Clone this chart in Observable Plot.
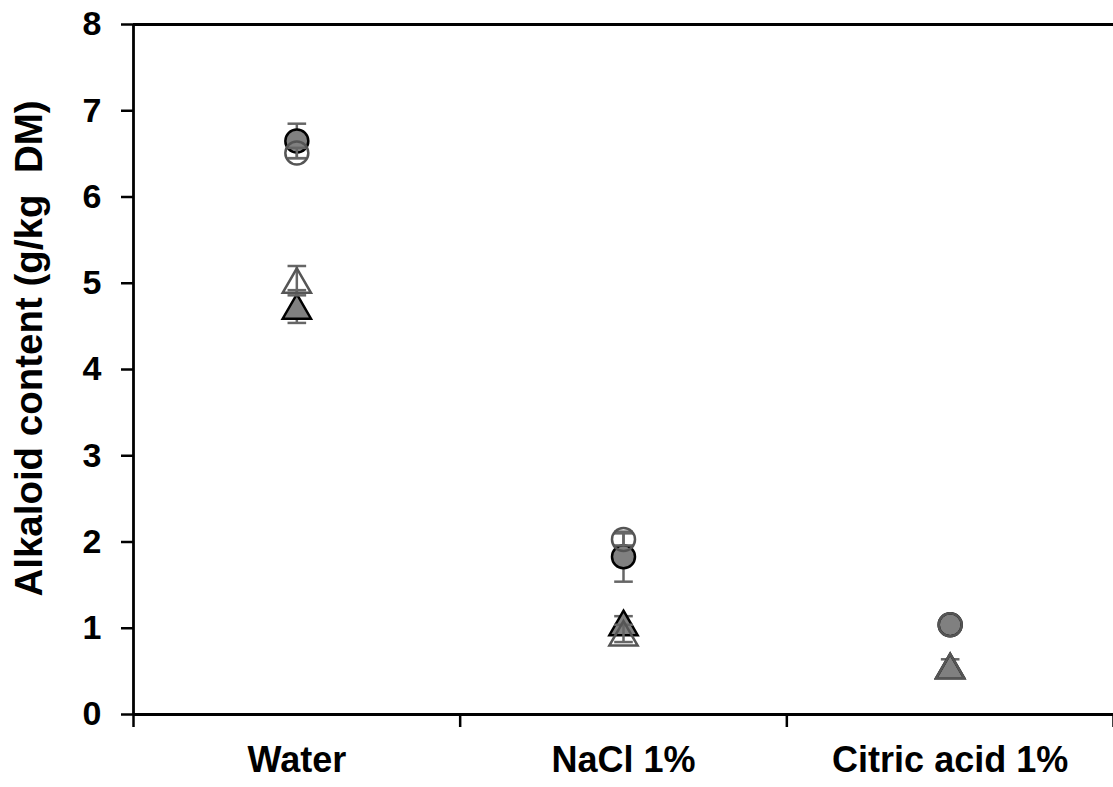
<!DOCTYPE html>
<html>
<head>
<meta charset="utf-8">
<script src="https://cdn.jsdelivr.net/npm/d3@7"></script>
<script src="https://cdn.jsdelivr.net/npm/@observablehq/plot@0.6"></script>
<style>
  html, body { margin: 0; padding: 0; background: #fff; }
  #chart svg { display: block; }
</style>
</head>
<body>
<div id="chart"></div>
<script>
// ---- data ----
const categories = ["Water", "NaCl 1%", "Citric acid 1%"];
const yTicks = [0, 1, 2, 3, 4, 5, 6, 7, 8];
const yLabel = "Alkaloid content (g/kg  DM)";

const circleFilled    = [6.65, 1.83, 1.04];
const circleFilledErr = [0.20, 0.29, 0.05];
const circleOpen      = [6.51, 2.03, 1.04];
const circleOpenErr   = [0.06, 0.07, 0];
const triFilled       = [4.73, 1.06, 0.56];
const triFilledErr    = [0.19, 0.08, 0.08];
const triOpen         = [5.03, 0.94, 0.56];
const triOpenErr      = [0.17, 0.10, 0];

// ---- build rows ----
function rows(values, errs) {
  return values.map((v, i) => ({cat: i + 0.5, v, e: errs[i]}));
}
const cF = rows(circleFilled, circleFilledErr);
const tF = rows(triFilled, triFilledErr);
const cO = rows(circleOpen, circleOpenErr);
const tO = rows(triOpen, triOpenErr);

// horizontal cap symbol for error bars
const capSymbol = {
  draw(context, size) {
    const w = Math.sqrt(size) / 2;
    context.moveTo(-w, 0);
    context.lineTo(w, 0);
  }
};

function errorMarks(data, color) {
  const d = data.filter(r => r.e > 0);
  return [
    Plot.ruleX(d, {x: "cat", y1: r => r.v - r.e, y2: r => r.v + r.e, stroke: color, strokeWidth: 2.5}),
    Plot.dot(d, {x: "cat", y: r => r.v + r.e, symbol: capSymbol, r: 10.5, stroke: color, strokeWidth: 2.5}),
    Plot.dot(d, {x: "cat", y: r => r.v - r.e, symbol: capSymbol, r: 10.5, stroke: color, strokeWidth: 2.5})
  ];
}

const font = "'Liberation Sans', Arial, Helvetica, sans-serif";
const filledStyle = {fill: "#808080", stroke: "#000", strokeWidth: 2.5};
const openStyle = {fill: "none", stroke: "#555", strokeWidth: 2.5};

const chart = Plot.plot({
  width: 1113,
  height: 787,
  marginLeft: 133,
  marginRight: 0,
  marginTop: 24,
  marginBottom: 73,
  style: {fontFamily: font, background: "#fff", overflow: "visible"},
  x: {type: "linear", domain: [0, 3]},
  y: {domain: [0, 8]},
  marks: [
    // frame lines
    Plot.ruleY([0, 8], {stroke: "#000", strokeWidth: 2.8}),
    Plot.ruleX([0], {y1: 0, y2: 8, stroke: "#000", strokeWidth: 2.8}),
    // axes
    Plot.axisY({ticks: yTicks, tickSize: 12, tickPadding: 20, strokeWidth: 2.5, stroke: "#000",
      fontSize: 34, fontWeight: "bold", fill: "#000", label: null}),
    Plot.axisX({ticks: [0, 1, 2, 3], tickSize: 13, strokeWidth: 2.5, stroke: "#000",
      tickFormat: () => "", label: null}),
    Plot.axisX({ticks: categories.map((c, i) => i + 0.5), tickSize: 0, tickPadding: 32,
      tickFormat: t => categories[Math.floor(t)], fontSize: 36, fontWeight: "bold", fill: "#000", label: null}),
    // y label
    Plot.text([yLabel], {frameAnchor: "left", rotate: -90, dx: -104, dy: -21,
      fontSize: 38.5, fontWeight: "bold", fill: "#000", textAnchor: "middle", lineAnchor: "middle"}),
    // filled series
    ...errorMarks(cF, "#666"),
    ...errorMarks(tF, "#666"),
    Plot.dot(cF, {x: "cat", y: "v", symbol: "circle", r: 11.5, ...filledStyle}),
    Plot.dot(tF, {x: "cat", y: "v", symbol: "triangle", r: 10.5, dy: 4, ...filledStyle}),
    // open series
    ...errorMarks(cO, "#666"),
    ...errorMarks(tO, "#666"),
    Plot.dot(cO, {x: "cat", y: "v", symbol: "circle", r: 11.5, ...openStyle}),
    Plot.dot(tO, {x: "cat", y: "v", symbol: "triangle", r: 10.5, dy: 4, ...openStyle})
  ]
});
document.getElementById("chart").appendChild(chart);
</script>
</body>
</html>
